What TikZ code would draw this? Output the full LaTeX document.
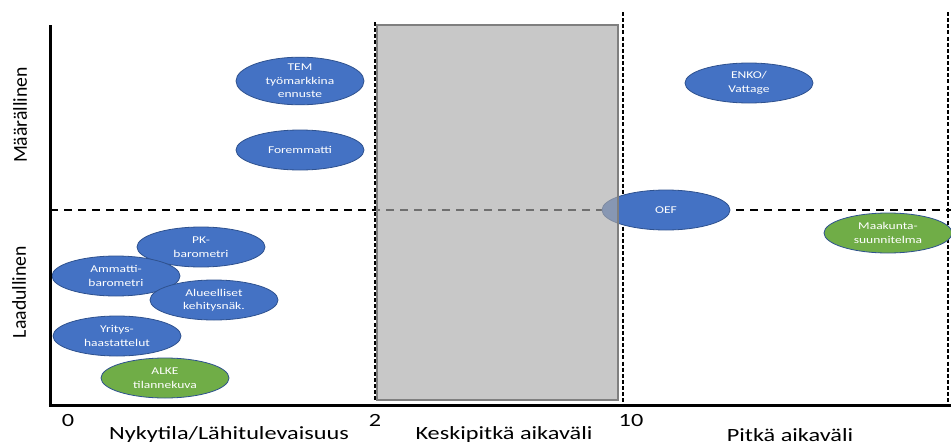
\documentclass[tikz,border=0pt]{standalone}
\usepackage{fontspec}
\setmainfont{Carlito}
\newfontfamily\widefont[FakeStretch=1.3]{Carlito}
\usetikzlibrary{shapes.geometric}
\definecolor{blueshape}{RGB}{68,114,196}
\definecolor{blueedge}{RGB}{47,82,143}
\definecolor{greenshape}{RGB}{112,173,71}
\definecolor{boxgray}{RGB}{171,171,171}
\definecolor{boxedge}{RGB}{127,127,127}

\begin{document}
\begin{tikzpicture}[x=0.75pt,y=0.75pt,yscale=-1,xscale=1,
    blob/.style={ellipse, draw=blueedge, line width=0.6pt, fill=blueshape, text=white,
        minimum width=96pt, minimum height=30pt, inner sep=0pt, align=center,
        font=\widefont\fontsize{7.8}{10.1}\selectfont},
    greenblob/.style={blob, fill=greenshape},
    sidelabel/.style={font=\fontsize{14.8}{16}\selectfont},
    bottomlabel/.style={font=\widefont\fontsize{14}{16}\selectfont},
    sepline/.style={line width=1.5pt, dash pattern=on 3pt off 1.6pt}]
    \useasboundingbox (0,0) rectangle (951,446);

    %Straight Lines: middle dashed line
    \draw [line width=1.5pt, dash pattern=on 6pt off 4.5pt] (50,210) -- (951,210) ;
    %Straight Lines: period borders
    \draw [sepline] (375,22) -- (375,400) ;
    \draw [sepline] (623,12) -- (623,405) ;
    \draw [sepline] (948,12) -- (948,405) ;

    %Shape: Ellipse, short term
    \node [blob] (tem) at (300,81) {TEM\\työmarkkina\\ennuste};
    \node [blob] (forem) at (300,150) {Foremmatti};
    \node [blob] (pk) at (201,247) {PK-\\barometri};
    \node [blob] (ammatti) at (116,276) {Ammatti-\\barometri};
    \node [blob] (alue) at (214,300) {Alueelliset\\kehitysnäk.};
    \node [blob] (yritys) at (117,336) {Yritys-\\haastattelut};
    \node [greenblob] (alke) at (165,378) {ALKE\\tilannekuva};
    %Shape: Ellipse, long term
    \node [blob] (oef) at (666,210) {OEF};
    \node [blob] (enko) at (749,83) {ENKO/\\Vattage};
    \node [greenblob] (maakunta) at (888,233) {Maakunta-\\suunnitelma};

    %Shape: Rectangle, medium term
    \draw [draw=boxedge, line width=1.5pt, fill=boxgray, fill opacity=0.65] (377,25) rectangle (618,400) ;

    %Straight Lines: axes
    \draw [line width=2.25pt] (50,25) -- (50,406.5) ;
    \draw [line width=2.25pt] (48.9,405) -- (951,405) ;

    %Text: axis labels
    \node [sidelabel, rotate=90] (maara) at (20,115) {Määrällinen};
    \node [sidelabel, rotate=90] (laatu) at (19,292) {Laadullinen};
    \node [bottomlabel] (tick0) at (68,421) {0};
    \node [bottomlabel] (tick2) at (375,420) {2};
    \node [bottomlabel] (tick10) at (631,421) {10};
    \node [bottomlabel] (nyky) at (229,435) {Nykytila/Lähitulevaisuus};
    \node [bottomlabel] (keski) at (504,435) {Keskipitkä aikaväli};
    \node [bottomlabel] (pitka) at (790,435) {Pitkä aikaväli};
\end{tikzpicture}
\end{document}
